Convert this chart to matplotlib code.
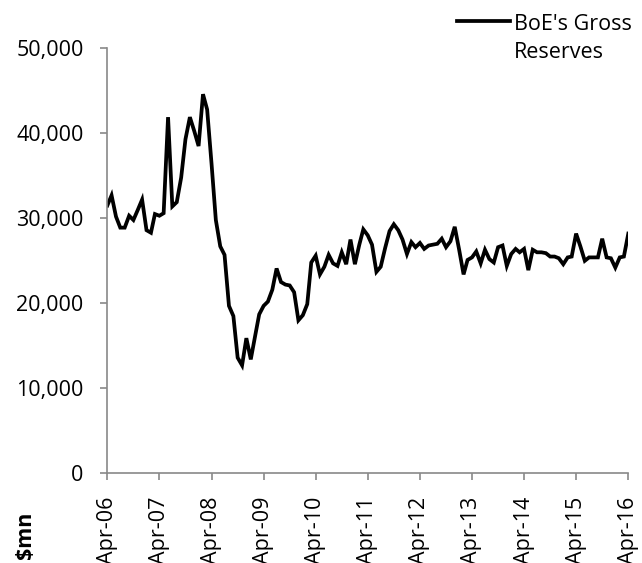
import matplotlib
matplotlib.use("Agg")
import matplotlib.pyplot as plt
from matplotlib.lines import Line2D
import pandas as pd

# Monthly gross reserves, $mn, Apr-2006 .. Apr-2016
reserves = [
    31500, 32700, 30200, 28900, 28900, 30300, 29800, 31000, 32200, 28600,
    28300, 30500, 30300, 30600, 41900, 31400, 31900, 34800, 39300, 41900,
    40300, 38500, 44600, 42800, 36400, 29800, 26700, 25700, 19700, 18500,
    13600, 12700, 15900, 13400, 16200, 18700, 19700, 20200, 21600, 24100,
    22500, 22200, 22100, 21300, 18000, 18600, 19900, 24800, 25600, 23400,
    24300, 25700, 24700, 24400, 26000, 24600, 27500, 24600, 26900, 28700,
    28000, 26900, 23700, 24300, 26500, 28500, 29300, 28600, 27500, 25800,
    27200, 26600, 27100, 26400, 26800, 26900, 27000, 27600, 26600, 27300,
    29000, 26300, 23400, 25100, 25400, 26100, 24700, 26300, 25200, 24800,
    26600, 26800, 24400, 25800, 26400, 26000, 26400, 23900, 26300, 26000,
    26000, 25900, 25500, 25500, 25300, 24600, 25400, 25500, 28200, 26700,
    25000, 25400, 25400, 25400, 27600, 25400, 25300, 24200, 25400, 25500,
    28200,
]
dates = pd.date_range("2006-04-01", periods=len(reserves), freq="MS")
tick_dates = pd.date_range("2006-04-01", "2016-04-01", freq="12MS")
tick_labels = [d.strftime("Apr-%y") for d in tick_dates]
y_ticks = [0, 10000, 20000, 30000, 40000, 50000]
series_name = ["BoE's Gross", "Reserves"]
unit_label = "$mn"

FONT = "Open Sans"
plt.rcParams["font.family"] = [FONT, "DejaVu Sans"]
FS = 15.5

W, H = 642, 563
fig = plt.figure(figsize=(W / 100, H / 100), dpi=100)
left, right, top, bottom = 107.3, 628.3, 48.3, 473.3
ax = fig.add_axes([left / W, (H - bottom) / H, (right - left) / W, (bottom - top) / H])

ax.plot(dates, reserves, color="black", lw=2.7, solid_joinstyle="miter")

ax.set_xlim(tick_dates[0], tick_dates[-1])
ax.set_ylim(0, 50000)
ax.set_yticks(y_ticks)
ax.set_yticklabels([f"{v:,}" for v in y_ticks])
ax.set_xticks(tick_dates)
ax.set_xticklabels(tick_labels, rotation=90)

gray = "#898989"
for s in ["top", "right"]:
    ax.spines[s].set_visible(False)
for s in ["left", "bottom"]:
    ax.spines[s].set_color(gray)
    ax.spines[s].set_linewidth(1.2)
ax.tick_params(axis="both", colors=gray, labelcolor="black", width=1.2,
               length=5, direction="out", labelsize=FS)
ax.tick_params(axis="y", pad=12)
ax.tick_params(axis="x", pad=12)
ax.patch.set_visible(False)

# unit label
fig.text(25 / W, 1 - 535 / H, unit_label, rotation=90, ha="center", va="center",
         fontsize=FS, fontweight="bold")

# legend (manual)
fig.add_artist(Line2D([457 / W, 510 / W], [1 - 21 / H, 1 - 21 / H],
                      color="black", lw=2.7, transform=fig.transFigure))
for i, line in enumerate(series_name):
    fig.text(514 / W, 1 - (30.5 + 28 * i) / H, line, ha="left", va="baseline",
             fontsize=FS)

fig.savefig("out.png", dpi=100)
